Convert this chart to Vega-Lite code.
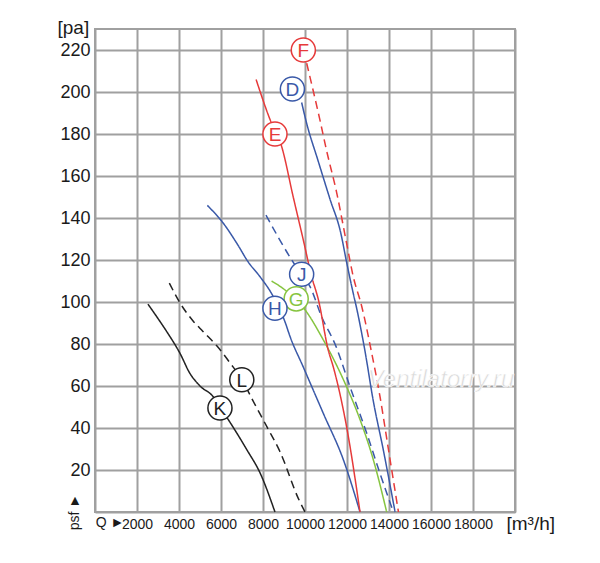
{
  "$schema": "https://vega.github.io/schema/vega-lite/v6.json",
  "autosize": {"type": "none"},
  "padding": {"left": 95, "top": 29, "right": 85, "bottom": 51},
  "width": 420,
  "height": 483,
  "background": "white",
  "config": {
    "view": {"stroke": "#a0a0a0", "strokeWidth": 2},
    "font": "Liberation Sans"
  },
  "datasets": {
    "curves": [
      {"c": "K", "s": "solid", "q": 2520, "p": 99},
      {"c": "K", "s": "solid", "q": 2940, "p": 93},
      {"c": "K", "s": "solid", "q": 3410, "p": 86},
      {"c": "K", "s": "solid", "q": 4050, "p": 75.5},
      {"c": "K", "s": "solid", "q": 4520, "p": 66},
      {"c": "K", "s": "solid", "q": 5000, "p": 60},
      {"c": "K", "s": "solid", "q": 5620, "p": 55},
      {"c": "K", "s": "solid", "q": 5950, "p": 50},
      {"c": "K", "s": "solid", "q": 6570, "p": 40.5},
      {"c": "K", "s": "solid", "q": 7240, "p": 29.5},
      {"c": "K", "s": "solid", "q": 7860, "p": 18.6},
      {"c": "K", "s": "solid", "q": 8570, "p": 0},
      {"c": "L", "s": "dashed", "q": 3540, "p": 109},
      {"c": "L", "s": "dashed", "q": 4050, "p": 99.5},
      {"c": "L", "s": "dashed", "q": 4670, "p": 91},
      {"c": "L", "s": "dashed", "q": 5140, "p": 86},
      {"c": "L", "s": "dashed", "q": 5810, "p": 79},
      {"c": "L", "s": "dashed", "q": 6430, "p": 71},
      {"c": "L", "s": "dashed", "q": 7000, "p": 63},
      {"c": "L", "s": "dashed", "q": 7520, "p": 53},
      {"c": "L", "s": "dashed", "q": 8190, "p": 40.5},
      {"c": "L", "s": "dashed", "q": 8810, "p": 28.7},
      {"c": "L", "s": "dashed", "q": 9680, "p": 6.5},
      {"c": "L", "s": "dashed", "q": 10000, "p": 0},
      {"c": "H", "s": "solid", "q": 5350, "p": 146},
      {"c": "H", "s": "solid", "q": 6110, "p": 137.5},
      {"c": "H", "s": "solid", "q": 6750, "p": 128},
      {"c": "H", "s": "solid", "q": 7300, "p": 119},
      {"c": "H", "s": "solid", "q": 7860, "p": 112},
      {"c": "H", "s": "solid", "q": 8410, "p": 104},
      {"c": "H", "s": "solid", "q": 9050, "p": 90.5},
      {"c": "H", "s": "solid", "q": 9290, "p": 83.5},
      {"c": "H", "s": "solid", "q": 9920, "p": 69},
      {"c": "H", "s": "solid", "q": 10870, "p": 47},
      {"c": "H", "s": "solid", "q": 11830, "p": 24.8},
      {"c": "H", "s": "solid", "q": 12620, "p": 0},
      {"c": "G", "s": "solid", "q": 8410, "p": 110},
      {"c": "G", "s": "solid", "q": 9050, "p": 105.7},
      {"c": "G", "s": "solid", "q": 10000, "p": 96.3},
      {"c": "G", "s": "solid", "q": 10870, "p": 82},
      {"c": "G", "s": "solid", "q": 11830, "p": 63},
      {"c": "G", "s": "solid", "q": 12620, "p": 44},
      {"c": "G", "s": "solid", "q": 13250, "p": 25},
      {"c": "G", "s": "solid", "q": 13890, "p": 0},
      {"c": "J", "s": "dashed", "q": 8140, "p": 141.4},
      {"c": "J", "s": "dashed", "q": 9370, "p": 120},
      {"c": "J", "s": "dashed", "q": 9830, "p": 113},
      {"c": "J", "s": "dashed", "q": 10240, "p": 107.3},
      {"c": "J", "s": "dashed", "q": 10790, "p": 93},
      {"c": "J", "s": "dashed", "q": 11470, "p": 79},
      {"c": "J", "s": "dashed", "q": 12140, "p": 59.7},
      {"c": "J", "s": "dashed", "q": 12940, "p": 37.5},
      {"c": "J", "s": "dashed", "q": 13570, "p": 18.4},
      {"c": "J", "s": "dashed", "q": 14210, "p": 0},
      {"c": "E", "s": "solid", "q": 7670, "p": 206},
      {"c": "E", "s": "solid", "q": 8330, "p": 187},
      {"c": "E", "s": "solid", "q": 8890, "p": 174},
      {"c": "E", "s": "solid", "q": 9440, "p": 150},
      {"c": "E", "s": "solid", "q": 9920, "p": 129.5},
      {"c": "E", "s": "solid", "q": 10320, "p": 112},
      {"c": "E", "s": "solid", "q": 10640, "p": 101},
      {"c": "E", "s": "solid", "q": 11110, "p": 77},
      {"c": "E", "s": "solid", "q": 11350, "p": 69},
      {"c": "E", "s": "solid", "q": 11980, "p": 40.6},
      {"c": "E", "s": "solid", "q": 12620, "p": 0},
      {"c": "D", "s": "solid", "q": 9840, "p": 195},
      {"c": "D", "s": "solid", "q": 10080, "p": 185},
      {"c": "D", "s": "solid", "q": 10600, "p": 168},
      {"c": "D", "s": "solid", "q": 11190, "p": 149},
      {"c": "D", "s": "solid", "q": 11700, "p": 133},
      {"c": "D", "s": "solid", "q": 11980, "p": 119},
      {"c": "D", "s": "solid", "q": 12300, "p": 104},
      {"c": "D", "s": "solid", "q": 12460, "p": 97},
      {"c": "D", "s": "solid", "q": 12850, "p": 77},
      {"c": "D", "s": "solid", "q": 13250, "p": 53},
      {"c": "D", "s": "solid", "q": 13730, "p": 29.5},
      {"c": "D", "s": "solid", "q": 14290, "p": 0},
      {"c": "F", "s": "dashed", "q": 10080, "p": 213.7},
      {"c": "F", "s": "dashed", "q": 10710, "p": 186.7},
      {"c": "F", "s": "dashed", "q": 11030, "p": 172},
      {"c": "F", "s": "dashed", "q": 11510, "p": 152},
      {"c": "F", "s": "dashed", "q": 11980, "p": 128},
      {"c": "F", "s": "dashed", "q": 12300, "p": 112},
      {"c": "F", "s": "dashed", "q": 12700, "p": 98},
      {"c": "F", "s": "dashed", "q": 13150, "p": 77},
      {"c": "F", "s": "dashed", "q": 13570, "p": 55},
      {"c": "F", "s": "dashed", "q": 13970, "p": 30},
      {"c": "F", "s": "dashed", "q": 14450, "p": 0}
    ],
    "labels": [
      {"c": "F", "q": 9920, "p": 220},
      {"c": "D", "q": 9400, "p": 201.4},
      {"c": "E", "q": 8570, "p": 180},
      {"c": "J", "q": 9840, "p": 113.2},
      {"c": "G", "q": 9580, "p": 101.5},
      {"c": "H", "q": 8570, "p": 97},
      {"c": "L", "q": 6990, "p": 63},
      {"c": "K", "q": 5950, "p": 49.5}
    ],
    "notes": [
      {"t": "Q ►", "q": 714, "p": 0, "kind": "q"},
      {"t": "psf ►", "q": -1000, "p": 0, "kind": "psf"}
    ],
    "mark": [
      {"t": "Ventilatorry.ru", "q": 16480, "p": 63}
    ]
  },
  "layer": [
    {
      "data": {"name": "curves"},
      "mark": {"type": "line", "interpolate": "monotone", "strokeWidth": 1.5},
      "encoding": {
        "x": {
          "field": "q", "type": "quantitative",
          "scale": {"domain": [0, 20000], "nice": false},
          "axis": {
            "values": [0, 1000, 2000, 3000, 4000, 5000, 6000, 7000, 8000, 9000, 10000, 11000, 12000, 13000, 14000, 15000, 16000, 17000, 18000, 19000, 20000],
            "grid": true, "ticks": false, "domain": false,
            "gridColor": "#a0a0a0", "gridWidth": 2,
            "labelExpr": "datum.value % 2000 == 0 && datum.value > 0 && datum.value < 20000 ? format(datum.value, 'd') : ''",
            "labelOverlap": false, "labelFlush": false,
            "labelFontSize": 14, "labelColor": "#1a1a1a", "labelPadding": 5, "labelDx": 3,
            "title": "[m³/h]", "titleFontSize": 19, "titleFontWeight": "normal", "titleColor": "#1a1a1a",
            "titleAnchor": "start", "titleAlign": "left", "titleBaseline": "middle",
            "titleX": 411, "titleY": 11
          }
        },
        "y": {
          "field": "p", "type": "quantitative",
          "scale": {"domain": [0, 230], "nice": false},
          "axis": {
            "values": [0, 10, 20, 30, 40, 50, 60, 70, 80, 90, 100, 110, 120, 130, 140, 150, 160, 170, 180, 190, 200, 210, 220, 230],
            "grid": true, "ticks": false, "domain": false,
            "gridColor": "#a0a0a0", "gridWidth": 2,
            "labelExpr": "datum.value % 20 == 0 && datum.value > 0 ? format(datum.value, 'd') : ''",
            "labelOverlap": false, "labelFlush": false,
            "labelFontSize": 18, "labelColor": "#1a1a1a", "labelPadding": 5,
            "title": "[pa]", "titleFontSize": 19, "titleFontWeight": "normal", "titleColor": "#1a1a1a",
            "titleAngle": 0, "titleAnchor": "start", "titleAlign": "left", "titleBaseline": "middle",
            "titleX": -38, "titleY": -2
          }
        },
        "color": {
          "field": "c", "type": "nominal", "legend": null,
          "scale": {"domain": ["D", "E", "F", "G", "H", "J", "K", "L"], "range": ["#3a59a8", "#e63a3a", "#e63a3a", "#86c440", "#3a59a8", "#3a59a8", "#222222", "#222222"]}
        },
        "strokeDash": {
          "field": "s", "type": "nominal", "legend": null,
          "scale": {"domain": ["solid", "dashed"], "range": [[1, 0], [8, 5]]}
        }
      }
    },
    {
      "data": {"name": "labels"},
      "mark": {"type": "point", "shape": "circle", "size": 580, "fill": "white", "fillOpacity": 1, "strokeWidth": 1.5, "opacity": 1},
      "encoding": {
        "x": {"field": "q", "type": "quantitative"},
        "y": {"field": "p", "type": "quantitative"},
        "stroke": {
          "field": "c", "type": "nominal", "legend": null,
          "scale": {"domain": ["D", "E", "F", "G", "H", "J", "K", "L"], "range": ["#3a59a8", "#e63a3a", "#e63a3a", "#86c440", "#3a59a8", "#3a59a8", "#222222", "#222222"]}
        }
      }
    },
    {
      "data": {"name": "labels"},
      "mark": {"type": "text", "fontSize": 19, "baseline": "middle", "align": "center", "dy": 1},
      "encoding": {
        "x": {"field": "q", "type": "quantitative"},
        "y": {"field": "p", "type": "quantitative"},
        "text": {"field": "c"},
        "color": {
          "field": "c", "type": "nominal", "legend": null,
          "scale": {"domain": ["D", "E", "F", "G", "H", "J", "K", "L"], "range": ["#3a59a8", "#e63a3a", "#e63a3a", "#86c440", "#3a59a8", "#3a59a8", "#222222", "#222222"]}
        }
      }
    },
    {
      "data": {"name": "notes"},
      "transform": [{"filter": "datum.kind == 'q'"}],
      "mark": {"type": "text", "fontSize": 14, "baseline": "middle", "align": "center", "dy": 11, "color": "#1a1a1a", "clip": false},
      "encoding": {
        "x": {"field": "q", "type": "quantitative"},
        "y": {"field": "p", "type": "quantitative"},
        "text": {"field": "t"}
      }
    },
    {
      "data": {"name": "notes"},
      "transform": [{"filter": "datum.kind == 'psf'"}],
      "mark": {"type": "text", "fontSize": 14, "baseline": "middle", "align": "center", "angle": 270, "dy": 1, "color": "#1a1a1a", "clip": false},
      "encoding": {
        "x": {"field": "q", "type": "quantitative"},
        "y": {"field": "p", "type": "quantitative"},
        "text": {"field": "t"}
      }
    },
    {
      "data": {"name": "mark"},
      "mark": {"type": "text", "fontSize": 24, "fontStyle": "italic", "baseline": "middle", "align": "center", "color": "#dadada", "stroke": "white", "strokeWidth": 0.6, "clip": false},
      "encoding": {
        "x": {"field": "q", "type": "quantitative"},
        "y": {"field": "p", "type": "quantitative"},
        "text": {"field": "t"}
      }
    }
  ]
}
